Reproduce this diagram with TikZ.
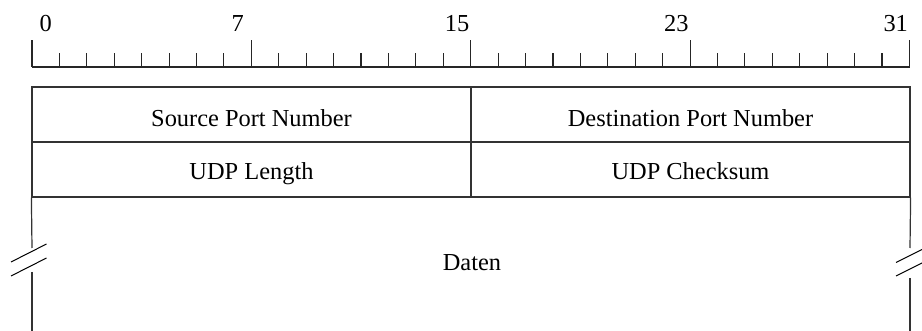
\documentclass[tikz,border=0pt]{standalone}
\usepackage{fontspec}
\setmainfont{Liberation Serif}
\begin{document}
\begin{tikzpicture}[x=0.5pt,y=-0.5pt,
  line/.style={line width=0.6pt, black!80},
  tickmark/.style={line width=0.55pt, black!85},
  txt/.style={inner sep=0pt, anchor=base, font=\fontsize{12.2}{14}\selectfont},
  field/.style={draw=black!80, line width=0.6pt, minimum width=219.5pt, minimum height=27.5pt, inner sep=0pt}
]
\useasboundingbox (0,0) rectangle (922,331);
% ruler
\coordinate (r0) at (32,67);
\coordinate (r32) at (909.5,67);
\draw[tickmark] (r0) -- (r32);
\foreach \i in {0,...,32}{
  \pgfmathsetmacro{\xx}{32+\i*27.42}
  \pgfmathtruncatemacro{\m}{mod(\i,8)}
  \ifnum\m=0
    \draw[tickmark] (\xx,67) -- (\xx,40);
  \else
    \draw[tickmark] (\xx,67) -- (\xx,53);
  \fi
}
\foreach \b in {0,7,15,23,31}{
  \pgfmathsetmacro{\xx}{32+(\b+0.5)*27.42}
  \node[txt] (lab\b) at (\xx,32) {\b};
}
% header fields
\node[field] (src) at (251.5,114.5) {};
\node[field] (dst) at (690.5,114.5) {};
\node[field] (len) at (251.5,169.5) {};
\node[field] (chk) at (690.5,169.5) {};
\node[txt] (srct) at (251.5,126.7) {Source Port Number};
\node[txt] (dstt) at (690.5,126.7) {Destination Port Number};
\node[txt] (lent) at (251.5,180) {UDP Length};
\node[txt] (chkt) at (690.5,180) {UDP Checksum};
% data region
\coordinate (dl) at (len.south west);
\coordinate (dr) at (chk.south east);
\draw[line] (dl) -- (32,248);
\draw[line] (32,272) -- (32,331);
\draw[line] (dr) -- (910,248);
\draw[line] (910,278) -- (910,331);
% break marks
\draw[line width=0.5pt] (11,262) -- (46.5,244);
\draw[line width=0.5pt] (11,276) -- (46.5,258);
\draw[line width=0.5pt] (896,262.5) -- (924,248.5);
\draw[line width=0.5pt] (896,276) -- (924,262);
\node[txt] (daten) at (472,270.7) {Daten};
\end{tikzpicture}
\end{document}
